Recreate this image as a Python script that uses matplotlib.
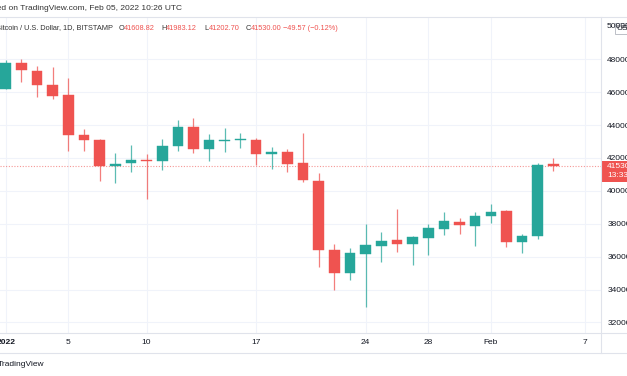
import matplotlib
matplotlib.use("Agg")
import matplotlib.pyplot as plt
from matplotlib.patches import Rectangle
from matplotlib.lines import Line2D

plt.rcParams['font.family'] = ['Liberation Sans', 'DejaVu Sans']

# ---- data (BTC/USD daily, Jan 1 – Feb 5 2022) ----
day_labels = [f"Jan {d}" for d in range(1, 32)] + [f"Feb {d}" for d in range(1, 6)]
opens  = [46180, 47750, 47290, 46450, 45820, 43410, 43090, 41530, 41680, 41850,
          41800, 42710, 43900, 42530, 43060, 43080, 43080, 42230, 42350, 41690,
          40620, 36390, 35030, 36180, 36670, 36990, 36770, 37120, 37660, 38130,
          37870, 38450, 38760, 36890, 37280, 41608.82]
highs  = [47960, 48000, 47590, 47510, 46850, 43780, 43140, 42300, 42770, 42240,
          43140, 44310, 44450, 43460, 43800, 43500, 43200, 42670, 42550, 43500,
          41090, 36770, 36550, 38000, 37520, 38900, 37260, 38000, 38720, 38330,
          38740, 39220, 38860, 37360, 41710, 41983.12]
lows   = [46180, 46640, 45690, 45570, 42430, 42430, 40620, 40500, 41170, 39530,
          41250, 42440, 42320, 41800, 42360, 42620, 41570, 41310, 41130, 40560,
          35390, 33960, 34580, 32920, 35700, 36270, 35480, 36120, 37340, 37360,
          36630, 38060, 36590, 36240, 37060, 41202.70]
closes = [47750, 47330, 46440, 45780, 43400, 43080, 41510, 41650, 41860, 41800,
          42710, 43900, 42530, 43080, 43100, 43120, 42220, 42350, 41630, 40680,
          36420, 35030, 36240, 36690, 36930, 36750, 37180, 37720, 38170, 37910,
          38450, 38700, 36890, 37260, 41570, 41530.00]
last_price = 41530.00

x_tick_idx    = [0, 4, 9, 16, 23, 27, 31, 37]
x_tick_labels = ["2022", "5", "10", "17", "24", "28", "Feb", "7"]
y_ticks = [32000, 34000, 36000, 38000, 40000, 42000, 44000, 46000, 48000]

UP = "#26a69a"
DOWN = "#ef5350"
GRID = "#f0f3fa"
BORDER = "#e0e3eb"
TXT = "#131722"

W, H = 627, 376
fig = plt.figure(figsize=(W / 100, H / 100), dpi=100)
fig.patch.set_facecolor("white")

def fx(x):
    return x / W

def fy(y):
    return 1 - y / H

ax = fig.add_axes([0, fy(333), fx(601), (333 - 17) / H])
ax.set_xlim(-0.364, 38.04)
ax.set_ylim(31359, 50572)
for s in ax.spines.values():
    s.set_visible(False)

# grid
for i in x_tick_idx:
    ax.axvline(i, color=GRID, lw=0.8, zorder=0)
for v in y_ticks:
    ax.axhline(v, color=GRID, lw=0.8, zorder=0)

# candles
xs = list(range(len(opens)))
for x, o, h, l, c in zip(xs, opens, highs, lows, closes):
    col = UP if c >= o else DOWN
    ax.vlines(x, l, h, color=col, lw=0.9, alpha=0.75, zorder=2)
    bottom = min(o, c)
    height = max(abs(c - o), 60)
    if abs(c - o) < 60:
        bottom = (o + c) / 2 - 30
    ax.bar(x, height, bottom=bottom, width=0.68, color=col,
           edgecolor=col, linewidth=0.3, zorder=3)

# last price dotted line
ax.axhline(last_price, color=DOWN, lw=0.8, ls=(0, (1, 1.5)), alpha=0.6, zorder=1)

# ticks
ax.set_xticks(x_tick_idx)
ax.set_xticklabels(x_tick_labels, fontsize=6, color=TXT)
ax.get_xticklabels()[0].set_fontweight("bold")
ax.tick_params(axis="x", length=0, pad=4)
ax.yaxis.tick_right()
ax.set_yticks(y_ticks)
ax.set_yticklabels([str(v) for v in y_ticks], fontsize=6, color=TXT)
for lab in ax.get_yticklabels():
    lab.set_horizontalalignment("left")
ax.tick_params(axis="y", length=0, pad=4.5)

# frame lines
fig.add_artist(Line2D([0, 1], [fy(17), fy(17)], color=BORDER, lw=0.8))
fig.add_artist(Line2D([0, 1], [fy(333), fy(333)], color=BORDER, lw=0.8))
fig.add_artist(Line2D([0, 1], [fy(352.5), fy(352.5)], color=BORDER, lw=0.8))
fig.add_artist(Line2D([fx(601), fx(601)], [fy(17), fy(352.5)], color=BORDER, lw=0.8))

# top header
fig.text(fx(182), fy(9), "Published on TradingView.com, Feb 05, 2022 10:26 UTC",
         ha="right", va="center", fontsize=6, color="#333333")

# legend line
LFS = 5.3
fig.text(fx(112.5), fy(28), "Bitcoin / U.S. Dollar, 1D, BITSTAMP",
         ha="right", va="center", fontsize=LFS, color="#333333")
parts = [(119, "O", "#333333"), (124, f"{opens[-1]:.2f}", DOWN),
         (161, "H", "#333333"), (165.5, f"{highs[-1]:.2f}", DOWN),
         (204, "L", "#333333"), (208.5, f"{lows[-1]:.2f}", DOWN),
         (245.5, "C", "#333333"), (250.5, f"{closes[-1]:.2f}", DOWN),
         (283, "\u221249.57 (\u22120.12%)", DOWN)]
for x, t, c in parts:
    fig.text(fx(x), fy(28), t, ha="left", va="center", fontsize=LFS, color=c)

# 50000 label partially hidden by currency box
fig.text(fx(607), fy(26.5), "50000", ha="left", va="center", fontsize=6, color=TXT)
fig.add_artist(Rectangle((fx(614.5), fy(34)), fx(20), 11 / H, facecolor="white",
                         edgecolor="#b2b5be", lw=0.6))
fig.text(fx(616.5), fy(28.5), "USD", ha="left", va="center", fontsize=6, color=TXT)

# last price label
fig.add_artist(Rectangle((fx(601), fy(181.5)), fx(30), 21 / H, facecolor=DOWN,
                         edgecolor="none"))
fig.text(fx(607), fy(166.5), "41530.00", ha="left", va="center", fontsize=6, color="white")
fig.text(fx(607), fy(175.8), "13:33:52", ha="left", va="center", fontsize=6, color="white")

# bottom logo text
fig.text(fx(44), fy(364.5), "TradingView", ha="right", va="center", fontsize=6,
         color=TXT)

fig.savefig("out.png", dpi=100, facecolor="white")
